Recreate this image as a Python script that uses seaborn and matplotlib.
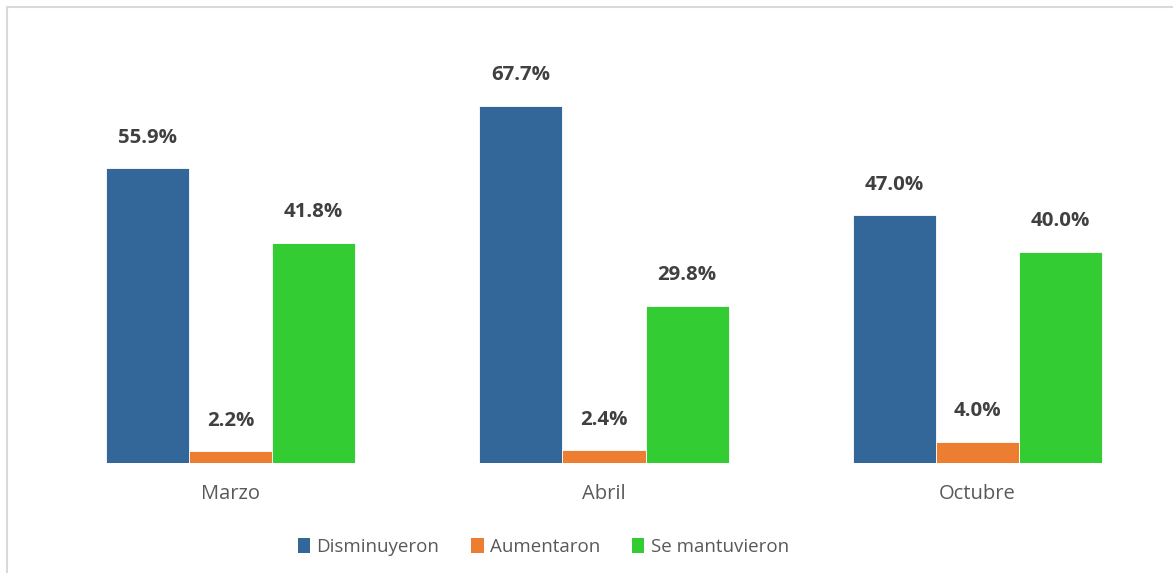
import matplotlib
matplotlib.use("Agg")
import matplotlib.pyplot as plt
from matplotlib.lines import Line2D
from matplotlib.patches import Patch
import seaborn as sns
import pandas as pd

months = ["Marzo", "Abril", "Octubre"]
series = ["Disminuyeron", "Aumentaron", "Se mantuvieron"]
disminuyeron = [55.9, 67.7, 47.0]
aumentaron = [2.2, 2.4, 4.0]
se_mantuvieron = [41.8, 29.8, 40.0]
colors = ["#336699", "#ED7D31", "#33CC33"]

rows = []
for name, vals in zip(series, [disminuyeron, aumentaron, se_mantuvieron]):
    for m, v in zip(months, vals):
        rows.append({"Mes": m, "Serie": name, "Valor": v})
df = pd.DataFrame(rows)

sns.set_theme(style="white")
plt.rcParams["font.family"] = ["Open Sans", "DejaVu Sans"]

fig = plt.figure(figsize=(11.73, 5.73), dpi=100)
ax = fig.add_axes([43.75 / 1173, 110 / 573, 1120.5 / 1173, 422 / 573])

sns.barplot(data=df, x="Mes", y="Valor", hue="Serie", order=months,
            hue_order=series, palette=colors, width=0.667, gap=0,
            edgecolor="white", linewidth=0.6, saturation=1, ax=ax, legend=False)

ax.set_xlim(-0.5, 2.5)
ax.set_ylim(0, 80)
for s in ax.spines.values():
    s.set_visible(False)
ax.set_yticks([])
ax.set_xlabel("")
ax.set_ylabel("")
ax.tick_params(axis="x", length=0, pad=15, labelsize=14.5, labelcolor="#595959")

for cont in ax.containers:
    for bar in cont:
        h = bar.get_height()
        ax.annotate(f"{h:.1f}%", (bar.get_x() + bar.get_width() / 2, h),
                    xytext=(0, 22), textcoords="offset points",
                    ha="center", va="center", fontsize=14.7, fontweight="bold",
                    color="#404040")

handles = [Patch(facecolor=c, edgecolor="none") for c in colors]
fig.legend(handles, series, loc="center", bbox_to_anchor=(543.5 / 1173, 1 - 547 / 573),
           ncol=3, frameon=False, fontsize=13.5, handlelength=0.65, handleheight=0.85,
           handletextpad=0.35, columnspacing=1.7, labelcolor="#595959")

fig.add_artist(Line2D([6.5 / 1173, 1], [1 - 7 / 573, 1 - 7 / 573], color="#D9D9D9", lw=1.5))
fig.add_artist(Line2D([6.5 / 1173, 6.5 / 1173], [0, 1 - 7 / 573], color="#D9D9D9", lw=1.5))

fig.savefig("out.png", dpi=100, facecolor="white")
